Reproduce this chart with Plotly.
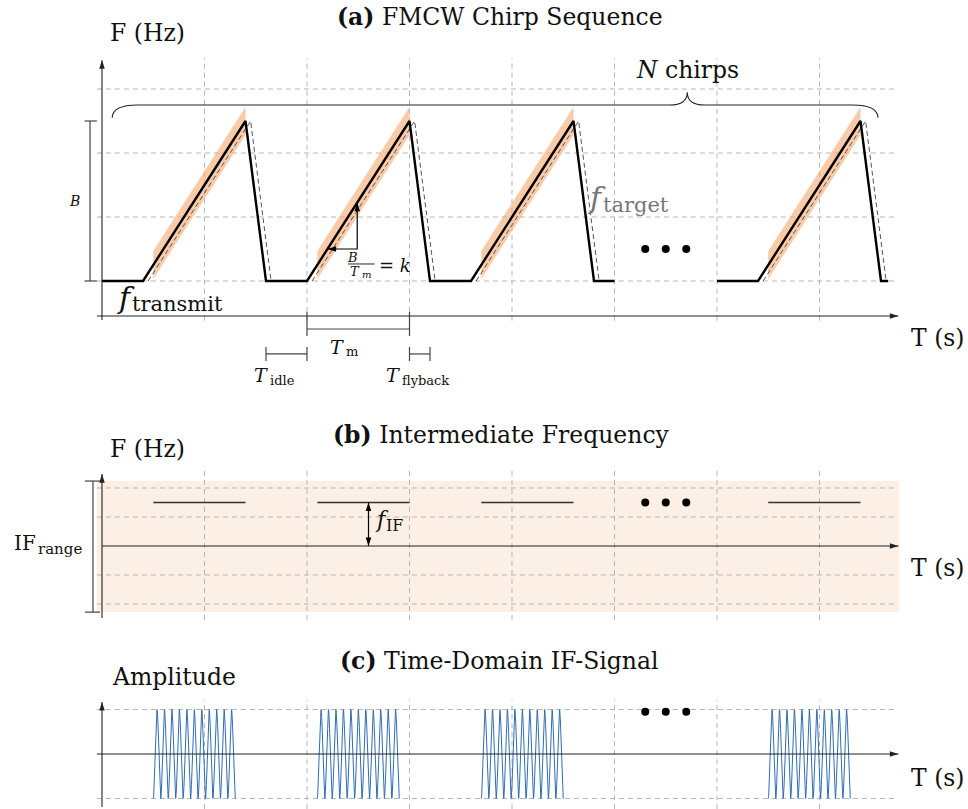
import numpy as np
import plotly.graph_objects as go

# ---- chirp timing (x unit = one grid cell) ----
chirp_starts = [0.0, 1.6, 3.2, 6.0]
t_idle = 0.4
t_ramp = 1.0
t_flyback = 0.2
tail_hold = [0.0, 0.0, 0.2, 0.07]
bandwidth = 2.5
target_delay = 0.05
band_half = 0.22
band_window = [0.5, 1.4]

# ---- intermediate-frequency panel ----
f_if_level = 1.5
if_window = [0.5, 1.4]
if_range = [-2.28, 2.24]

# ---- time-domain IF burst ----
burst_window = [0.5, 1.3]
burst_cycles = 11
burst_amp = 1.0

ellipsis_x = [5.3, 5.5, 5.7]
ellipsis_y = {"a": 0.5, "b": 1.5, "c": 0.95}

# grid positions per panel
grid_x = [1, 2, 3, 4, 5, 6, 7]
grid_y_a = [0, 1, 2, 3]
grid_y_b = [-2, -1, 1, 2]
grid_y_c = [-1, 1]

FONT = "DejaVu Serif"
GRID = "#b5b5b5"
AX = "#222222"
X_END = 7.77
TXT = 23.5

fig = go.Figure()


def seg(xs, ys, yaxis="y", color=AX, width=1.0, dash=None):
    fig.add_trace(go.Scatter(x=xs, y=ys, yaxis=yaxis, mode="lines",
                             line=dict(color=color, width=width, dash=dash),
                             hoverinfo="skip", showlegend=False))


def heads(xs, ys, angles, yaxis="y", color=AX, size=9):
    fig.add_trace(go.Scatter(x=xs, y=ys, yaxis=yaxis, mode="markers",
                             marker=dict(symbol="arrow", size=size, angle=angles,
                                         color=color, line=dict(width=0)),
                             hoverinfo="skip", showlegend=False))


def grid(ylist, ylo, yhi, yaxis):
    xs, ys = [], []
    for gy in ylist:
        xs += [-0.05, 7.75, None]
        ys += [gy, gy, None]
    for gx in grid_x:
        xs += [gx, gx, None]
        ys += [ylo, yhi, None]
    seg(xs, ys, yaxis, GRID, 1.0, "5px,4px")


def axes(x_from, y0, y_lo, y_hi, yaxis):
    seg([x_from, X_END, None, 0, 0], [y0, y0, None, y_lo, y_hi], yaxis, AX, 1.1)
    heads([X_END, 0], [y0, y_hi], [90, 0], yaxis)


def label(x, y, text, size=TXT, yref="y", xref="x", color="#111",
          xanchor="center", yanchor="middle", xshift=0, yshift=0):
    fig.add_annotation(x=x, y=y, xref=xref, yref=yref, text=text,
                       showarrow=False, xanchor=xanchor, yanchor=yanchor,
                       xshift=xshift, yshift=yshift, borderpad=0,
                       font=dict(family=FONT, size=size, color=color))


def sublabel(xj, y, main, sub, size, subsize, yref="y", color="#111", drop=5,
             main_shift=0, sub_shift=0):
    """Symbol ending at xj with its subscript starting there."""
    label(xj, y, main, size=size, yref=yref, color=color, xanchor="right",
          xshift=main_shift)
    label(xj, y, sub, size=subsize, yref=yref, color=color, xanchor="left",
          xshift=sub_shift, yshift=-drop)


# ================= (a) FMCW chirp sequence =================
grid(grid_y_a, -0.62, 3.48, "y")

# orange bands along the ramps
for s in chirp_starts:
    x0, x1 = s + band_window[0], s + band_window[1]
    y0 = (x0 - s - t_idle) / t_ramp * bandwidth
    y1 = (x1 - s - t_idle) / t_ramp * bandwidth
    fig.add_trace(go.Scatter(
        x=[x0, x1, x1, x0, x0],
        y=[y0 + band_half, y1 + band_half, y1 - band_half, y0 - band_half, y0 + band_half],
        mode="lines", fill="toself", fillcolor="rgba(246,168,110,0.6)",
        line=dict(width=0), hoverinfo="skip", showlegend=False))

# received (delayed) chirps, dashed
tx_r, ty_r = [], []
for s in chirp_starts:
    a = s + t_idle + target_delay
    tx_r += [a, a + t_ramp, a + t_ramp + t_flyback, None]
    ty_r += [0, bandwidth, 0, None]
seg(tx_r, ty_r, "y", "#555555", 1.0, "5px,3px")

# transmitted chirps
tx, ty = [], []
for s, hold in zip(chirp_starts, tail_hold):
    end = s + t_idle + t_ramp + t_flyback
    tx += [s, s + t_idle, s + t_idle + t_ramp, end]
    ty += [0, 0, bandwidth, 0]
    if hold > 0:
        tx += [end + hold, None]
        ty += [0, None]
seg(tx, ty, "y", "#000000", 2.4)

axes(-0.05, -0.547, -0.61, 3.45, "y")

# bandwidth bracket
bx = -0.117
seg([bx, bx, None, -0.17, -0.05, None, -0.17, -0.05],
    [0, bandwidth, None, 0, 0, None, bandwidth, bandwidth], "y", "#444", 1.2)
label(-0.27, bandwidth / 2, "<i>B</i>", size=14)

# slope triangle on second chirp
s2 = chirp_starts[1] + t_idle
p1 = (s2 + 0.2 * t_ramp, 0.2 * bandwidth)
p2 = (s2 + 0.49 * t_ramp, 0.49 * bandwidth)
seg([p1[0], p2[0], p2[0]], [p1[1], p1[1], p2[1]], "y", "#000", 1.2)
heads([p1[0], p2[0]], [p1[1], p2[1]], [270, 0], "y", "#000", 9)
label(2.44, 0.375, "<i>B</i>", size=13)
seg([2.4, 2.66], [0.266, 0.266], "y", "#111", 0.9)
sublabel(2.53, 0.15, "<i>T</i>", "<i>m</i>", 13, 10, drop=3)
label(2.86, 0.25, "= <i>k</i>", size=18)

# timing brackets
yb_m = -0.75
seg([s2, s2 + t_ramp, None, s2, s2, None, s2 + t_ramp, s2 + t_ramp],
    [yb_m, yb_m, None, -0.48, -0.86, None, -0.48, -0.86], "y", "#444", 1.2)
sublabel(s2 + 0.37, -1.03, "<i>T</i>", "m", 19, 13, drop=5)
yb = -1.14
i0 = chirp_starts[1]
seg([i0, i0 + t_idle, None, i0, i0, None, i0 + t_idle, i0 + t_idle],
    [yb, yb, None, yb - 0.11, yb + 0.11, None, yb - 0.11, yb + 0.11], "y", "#444", 1.2)
sublabel(i0 + 0.03, -1.47, "<i>T</i>", "idle", 19, 13, drop=5)
f0 = s2 + t_ramp
seg([f0, f0 + t_flyback, None, f0, f0, None, f0 + t_flyback, f0 + t_flyback],
    [yb, yb, None, yb - 0.11, yb + 0.11, None, yb - 0.11, yb + 0.11], "y", "#444", 1.2)
sublabel(f0 - 0.08, -1.47, "<i>T</i>", "flyback", 19, 13, drop=5)

# N-chirp brace
bx0 = chirp_starts[0] + 0.1
bx1 = chirp_starts[-1] + t_idle + t_ramp + t_flyback - 0.03
bxc = 5.71
ye, yh, yc = 2.55, 2.75, 2.95
path = (f"M {bx0},{ye} Q {bx0},{yh} {bx0 + 0.25},{yh} L {bxc - 0.17},{yh} "
        f"Q {bxc},{yh} {bxc},{yc} Q {bxc},{yh} {bxc + 0.17},{yh} "
        f"L {bx1 - 0.25},{yh} Q {bx1},{yh} {bx1},{ye}")
fig.add_shape(type="path", path=path, xref="x", yref="y",
              line=dict(color="#222", width=1.1))
label(bxc, 3.3, "<i>N</i> chirps", size=TXT)

sublabel(0.31, -0.25, "<i>f</i>", "transmit", 30, 21, drop=7,
         main_shift=2, sub_shift=-3)
sublabel(4.91, 1.3, "<i>f</i>", "target", 30, 21, color="#777777", drop=7,
         main_shift=2, sub_shift=-3)

fig.add_trace(go.Scatter(x=ellipsis_x, y=[ellipsis_y["a"]] * 3, mode="markers",
                         marker=dict(color="black", size=8), hoverinfo="skip",
                         showlegend=False))

# ================= (b) intermediate frequency =================
fig.add_shape(type="rect", x0=-0.05, x1=7.78, y0=if_range[0], y1=if_range[1],
              xref="x", yref="y2", fillcolor="#fcefe5", line=dict(width=0),
              layer="below")
grid(grid_y_b, -2.55, 2.62, "y2")
ix, iy = [], []
for s in chirp_starts:
    ix += [s + if_window[0], s + if_window[1], None]
    iy += [f_if_level, f_if_level, None]
seg(ix, iy, "y2", "#333", 1.3)
axes(0, 0, -2.48, 2.48, "y2")
rx = -0.088
seg([rx, rx, None, -0.166, -0.02, None, -0.166, -0.02],
    [if_range[0], if_range[1], None, if_range[0], if_range[0], None, if_range[1], if_range[1]],
    "y2", "#444", 1.2)
sublabel(-0.63, 0.1, "IF", "range", 20, 15, yref="y2", drop=6)
seg([2.6, 2.6], [0, f_if_level], "y2", "#000", 1.2)
heads([2.6, 2.6], [0, f_if_level], [180, 0], "y2", "#000", 9)
sublabel(2.79, 0.9, "<i>f</i>", "IF", 22, 16, yref="y2", drop=6,
         main_shift=2, sub_shift=-3)
fig.add_trace(go.Scatter(x=ellipsis_x, y=[ellipsis_y["b"]] * 3, yaxis="y2",
                         mode="markers", marker=dict(color="black", size=8),
                         hoverinfo="skip", showlegend=False))

# ================= (c) time-domain IF signal =================
grid(grid_y_c, -1.24, 1.21, "y3")
for s in chirp_starts:
    t0, t1 = s + burst_window[0], s + burst_window[1]
    t = np.linspace(t0, t1, 700)
    sig = -burst_amp * np.cos(2 * np.pi * burst_cycles * (t - t0) / (t1 - t0))
    seg(t, sig, "y3", "#2f6db5", 1.0)
axes(-0.05, 0, -1.19, 1.17, "y3")
fig.add_trace(go.Scatter(x=ellipsis_x, y=[ellipsis_y["c"]] * 3, yaxis="y3",
                         mode="markers", marker=dict(color="black", size=8),
                         hoverinfo="skip", showlegend=False))

# ---- titles and axis names (paper coordinates) ----
W, H = 968, 809


def ptext(px, py, text, size=TXT, xanchor="center"):
    label(px / W, 1 - py / H, text, size=size, xref="paper", yref="paper",
          xanchor=xanchor)


ptext(500, 17, "<b>(a)</b> FMCW Chirp Sequence")
ptext(501, 435, "<b>(b)</b> Intermediate Frequency")
ptext(500, 661, "<b>(c)</b> Time-Domain IF-Signal")
ptext(109, 33, "F (Hz)", xanchor="left")
ptext(109, 449, "F (Hz)", xanchor="left")
ptext(111, 677, "Amplitude", xanchor="left")
for py in (338, 568, 778):
    ptext(910, py, "T (s)", xanchor="left")

# pixel-aligned coordinate systems
xl, xr = -102 / 102.5, (W - 102) / 102.5
fig.update_layout(
    width=W, height=H, margin=dict(l=0, r=0, t=0, b=0),
    paper_bgcolor="white", plot_bgcolor="rgba(0,0,0,0)",
    xaxis=dict(domain=[0, 1], range=[xl, xr], visible=False, fixedrange=True),
    yaxis=dict(domain=[0, 1], range=[-(H - 281) / 64, 281 / 64], visible=False,
               fixedrange=True),
    yaxis2=dict(domain=[0, 1], range=[-(H - 546) / 29, 546 / 29], visible=False,
                overlaying="y", fixedrange=True),
    yaxis3=dict(domain=[0, 1], range=[-(H - 754) / 44.5, 754 / 44.5], visible=False,
                overlaying="y", fixedrange=True),
    showlegend=False,
)

fig.write_html("out.html")
